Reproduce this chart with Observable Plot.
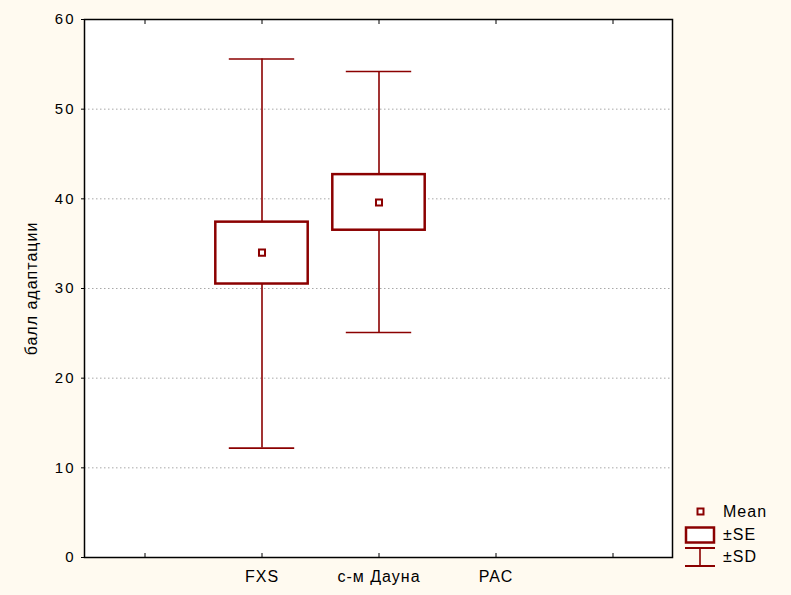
<!DOCTYPE html>
<html>
<head>
<meta charset="utf-8">
<script src="https://cdn.jsdelivr.net/npm/d3@7"></script>
<script src="https://cdn.jsdelivr.net/npm/@observablehq/plot@0.6"></script>
<style>
  html, body { margin: 0; padding: 0; background: #fffaf0; }
  #chart { position: relative; width: 791px; height: 595px; }
</style>
</head>
<body>
<div id="chart"></div>
<script>
// ---- data ----
const categories = ["FXS", "с-м Дауна", "РАС"];
const means  = [34.0, 39.6, null];
const seLow  = [30.5, 36.5, null];
const seHigh = [37.4, 42.7, null];
const sdLow  = [12.2, 25.1, null];
const sdHigh = [55.6, 54.2, null];
const yTicks = [0, 10, 20, 30, 40, 50, 60];
const gridTicks = [10, 20, 30, 40, 50];
const yLabel = "балл адаптации";
const legendLabels = ["Mean", "±SE", "±SD"];

const col = "#8b0000";
const FONT = "'Liberation Sans', Arial, sans-serif";
const xDomain = ["", ...categories, " "];
const rows = categories
  .map((c, i) => ({cat: c, mean: means[i], seLow: seLow[i], seHigh: seHigh[i], sdLow: sdLow[i], sdHigh: sdHigh[i]}))
  .filter(d => d.mean != null);

const chart = Plot.plot({
  width: 791,
  height: 595,
  marginLeft: 84,
  marginRight: 119,
  marginTop: 19,
  marginBottom: 38,
  style: {background: "#fffaf0", fontFamily: FONT, fontSize: "15px", color: "#000"},
  x: {type: "band", domain: xDomain, padding: 0, axis: null},
  y: {domain: [0, 60], axis: null},
  marks: [
    Plot.frame({fill: "white"}),
    Plot.gridY(gridTicks, {stroke: "#a8a8a8", strokeOpacity: 1, strokeWidth: 1, strokeDasharray: "1.5,2.5"}),
    Plot.ruleX(rows, {x: "cat", y1: "sdLow", y2: "sdHigh", stroke: col, strokeWidth: 1.6}),
    Plot.tickY(rows, {x: "cat", y: "sdLow", stroke: col, strokeWidth: 1.6, insetLeft: 25.8, insetRight: 25.8}),
    Plot.tickY(rows, {x: "cat", y: "sdHigh", stroke: col, strokeWidth: 1.6, insetLeft: 25.8, insetRight: 25.8}),
    Plot.barY(rows, {x: "cat", y1: "seLow", y2: "seHigh", fill: "white", stroke: col, strokeWidth: 2.5, insetLeft: 12.3, insetRight: 12.3}),
    Plot.dot(rows, {x: "cat", y: "mean", symbol: "square", r: 3.4, stroke: col, fill: "white", strokeWidth: 2}),
    Plot.frame({stroke: "black", strokeWidth: 1.5}),
    Plot.axisY({ticks: yTicks, tickSize: 3, tickPadding: 6, label: yLabel, labelAnchor: "center", labelArrow: "none", labelOffset: 59}),
    Plot.axisX({tickSize: -4, tickPadding: 17, tickFormat: d => d, label: null}),
    Plot.axisX({anchor: "top", tickSize: -4, tickFormat: () => "", label: null})
  ]
});

document.getElementById("chart").appendChild(chart);

const svg = d3.select(chart);
// text styling (wide, Statistica-like lettering)
svg.selectAll('g[aria-label="y-axis tick label"] text')
  .style("font-size", "15px").style("letter-spacing", "2px").style("font-family", FONT);
svg.selectAll('g[aria-label="x-axis tick label"] text')
  .style("font-size", "16px").style("letter-spacing", "1px").style("font-family", FONT);
svg.selectAll('g[aria-label="y-axis label"] text')
  .style("font-size", "16px").style("letter-spacing", "1px").style("font-family", FONT);

// ---- legend (bottom right) ----
const g = svg.append("g");
g.append("rect").attr("x", 697.5).attr("y", 508.5).attr("width", 6).attr("height", 6)
  .attr("fill", "white").attr("stroke", col).attr("stroke-width", 2);
g.append("rect").attr("x", 686).attr("y", 527.5).attr("width", 28).attr("height", 15)
  .attr("fill", "white").attr("stroke", col).attr("stroke-width", 2.5);
g.append("line").attr("x1", 685).attr("x2", 715).attr("y1", 548).attr("y2", 548).attr("stroke", col).attr("stroke-width", 2);
g.append("line").attr("x1", 685).attr("x2", 715).attr("y1", 566).attr("y2", 566).attr("stroke", col).attr("stroke-width", 2);
g.append("line").attr("x1", 700).attr("x2", 700).attr("y1", 548).attr("y2", 566).attr("stroke", col).attr("stroke-width", 1.6);
const ys = [516.5, 540, 561.5];
legendLabels.forEach((t, i) => {
  g.append("text").attr("x", 723).attr("y", ys[i])
    .style("text-anchor", "start").style("font-size", "16px").style("letter-spacing", "1px")
    .style("font-family", FONT).style("fill", "#000")
    .text(t);
});
</script>
</body>
</html>
